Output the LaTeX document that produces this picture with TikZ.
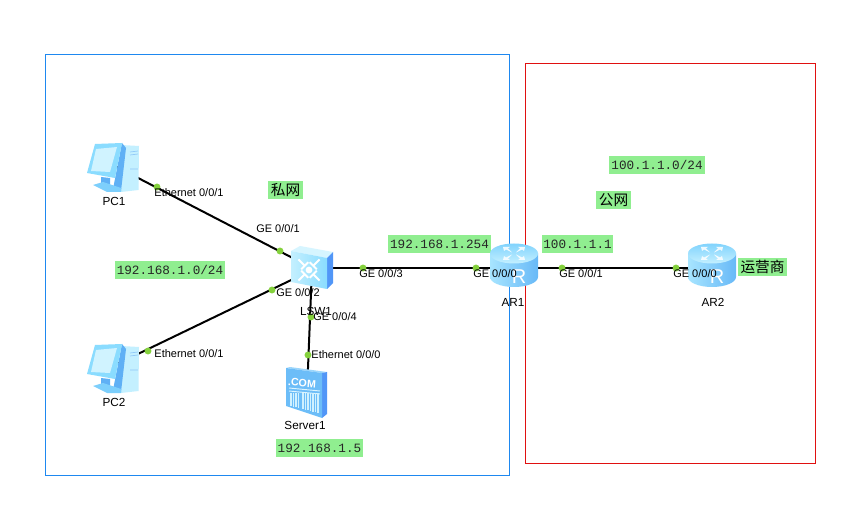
\documentclass[tikz,border=0pt]{standalone}
\usepackage{fontspec}
\setmainfont{Liberation Sans}
\newfontfamily\monof{Liberation Mono}
\newfontfamily\cjkf{Noto Sans CJK SC}
\usetikzlibrary{calc}
\definecolor{tagbg}{HTML}{90EE90}
\definecolor{portdot}{HTML}{84D13C}
\definecolor{framea}{HTML}{1E88F0}
\definecolor{frameb}{HTML}{E01010}
\definecolor{iconlight}{HTML}{C4F0FF}
\definecolor{iconmid}{HTML}{8ADCFF}
\definecolor{icondeep}{HTML}{5FB0F5}
\tikzset{
  x=0.75pt,y=-0.75pt,
  frame/.style={draw,line width=0.9pt},
  tag/.style={fill=tagbg,inner sep=0pt,font=\monof\fontsize{9.5}{11}\selectfont,text=black!85,minimum height=13.5pt},
  cjktag/.style={fill=tagbg,inner sep=0pt,font=\cjkf\fontsize{11}{12}\selectfont,minimum height=13.5pt},
  port/.style={font=\fontsize{8.25}{10}\selectfont,inner sep=0pt},
  devname/.style={font=\fontsize{8.8}{10}\selectfont,inner sep=0pt},
  portdotn/.style={circle,fill=portdot,inner sep=0pt,minimum size=5.2pt},
  anchorbox/.style={inner sep=0pt,minimum size=2pt},
  link/.style={draw=black,line width=1.5pt},
}
% four arrows on the top face of a router
\newcommand{\routertop}{%
  \foreach \a/\b in {-1/-1,1/-1,-1/1,1/1}{%
    \fill[white,opacity=.85] (\a*2,\b*1) -- (\a*8,\b*4) -- (\a*10,\b*2.5) -- (\a*11,\b*6.5) -- (\a*4,\b*6.5) -- (\a*6,\b*5.2) -- cycle;
  }%
}
\tikzset{
  routerpic/.pic={
    \shade[left color=iconmid!75!white,right color=icondeep!80!iconmid]
      (-24,-14.5) -- (-24,9) arc[start angle=180,end angle=0,x radius=24,y radius=10] -- (24,-14.5) -- cycle;
    \shade[bottom color=iconlight,top color=iconmid!80!icondeep]
      (0,-14.5) ellipse[x radius=24,y radius=10];
    \begin{scope}[shift={(0,-14.5)}]\routertop\end{scope}
  },
  pcpic/.pic={
    % tower, inner side, monitor, screen, stand
    \fill[iconlight] (8,-20) -- (26,-19) -- (25.5,25) -- (8,27) -- cycle;
    \fill[icondeep] (9,-22) -- (13,-17) -- (8,26) -- (0,24) -- cycle;
    \fill[iconmid] (-18,-21) -- (9,-22) -- (2,13) -- (-26,8) -- cycle;
    \fill[iconlight!80!white] (-17,-16) -- (4,-18) -- (-3,7) -- (-22,6) -- cycle;
    \fill[icondeep] (-12,12) -- (-3,13) -- (-3,20) -- (-12,18) -- cycle;
    \fill[iconmid!70!icondeep] (-20,20) -- (-10,17) -- (8,23) -- (8,27) -- (-6,27) -- cycle;
    \draw[icondeep!70,line width=.5pt] (17,-13) -- (25,-14) (17,-10) -- (25,-11) (17,4) -- (25,4);
  },
  switchpic/.pic={
    \fill[iconlight!70!white] (-21,-17) -- (-12,-22) -- (21,-16) -- (15,-10) -- cycle;
    \fill[icondeep!85!blue] (15,-10) -- (21,-16) -- (21,15) -- (15,21) -- cycle;
    \shade[left color=iconlight,right color=iconmid] (-21,-17) -- (15,-10) -- (15,21) -- (-21,14) -- cycle;
    \fill[white] (-3,2) circle[radius=3.4];
    \foreach \r in {45,135,225,315}{
      \begin{scope}[shift={(-3,2)},rotate=\r]
        \draw[white,line width=1.4pt] (6,0) -- (15,0);
        \draw[white,line width=1.4pt] (6,-5) -- (6,5);
      \end{scope}
    }
  },
  serverpic/.pic={
    \fill[iconlight!60!icondeep] (-21,-25) -- (-17,-26) -- (20,-21) -- (15,-20) -- cycle;
    \fill[icondeep!85!blue] (15,-20) -- (20,-21) -- (20,21) -- (15,25) -- cycle;
    \fill[icondeep!70!iconmid] (-21,-25) -- (15,-20) -- (15,25) -- (-21,13) -- cycle;
    \draw[white!70!iconmid,line width=.7pt] (-18,-5) -- (13,-2);
    \draw[white!70!iconmid,line width=.7pt] (-18,-2) -- (13,1);
    \foreach \vx in {-16,-13.5,-11,-8.5,-4,-1.5,1,3.5,6,8.5,11}{
      \draw[white!60!iconmid,line width=.8pt] (\vx,0) -- (\vx,{13+(\vx+16)*.25});
    }
  },
}
\begin{document}
\begin{tikzpicture}
\useasboundingbox (0,0) rectangle (866,523);
\fill[white] (0,0) rectangle (866,523);

% the two network regions
\draw[frame,framea] (45.5,54.5) rectangle (509.5,475.5);
\draw[frame,frameb] (525.5,63.5) rectangle (815.5,463.5);

% address and region tags
\node[tag,minimum width=82.5pt] (tagpriv) at (170,270) {192.168.1.0/24};
\node[tag,minimum width=77pt] (taggw) at (439.5,244) {192.168.1.254};
\node[tag,minimum width=53.5pt] (tagwan) at (577.5,244) {100.1.1.1};
\node[tag,minimum width=72pt] (tagpub) at (657,165) {100.1.1.0/24};
\node[tag,minimum width=65pt] (tagsrv) at (319.5,448) {192.168.1.5};
\node[cjktag,minimum width=26pt] (labpriv) at (285.5,190) {私网};
\node[cjktag,minimum width=26pt] (labpub) at (613.5,200) {公网};
\node[cjktag,minimum width=37pt] (labisp) at (762.5,267) {运营商};

% device positions
\node[anchorbox] (pc1) at (113,165) {};
\node[anchorbox] (pc2) at (113,366) {};
\node[anchorbox] (sw) at (312,268) {};
\node[anchorbox] (srv) at (307,393) {};
\node[anchorbox] (ar1) at (514,268) {};
\node[anchorbox] (ar2) at (712,268) {};

% links
\draw[link] (pc1.center) -- (sw.center);
\draw[link] (pc2.center) -- ([yshift=-1.5pt]sw.center);
\draw[link] (sw.center) -- (srv.center);
\draw[link] (sw.center) -- (ar1.center);
\draw[link] (ar1.center) -- (ar2.center);

% interface markers
\foreach \n/\p in {d1/{157,187},d2/{280,251},d3/{272,290},d4/{148,351},d5/{311,317},d6/{308,355},d7/{363,268},d8/{476,268},d9/{562,268},d10/{676,268}}{
  \node[portdotn] (\n) at (\p) {};
}

% device icons
\pic at (pc1) {pcpic};
\pic at (pc2) {pcpic};
\pic at (sw) {switchpic};
\pic at (srv) {serverpic};
\pic at (ar1) {routerpic};
\pic at (ar2) {routerpic};
\node[inner sep=0pt,text=white,font=\fontsize{15}{16}\selectfont] (r1) at (519,277) {R};
\node[inner sep=0pt,text=white,font=\fontsize{15}{16}\selectfont] (r2) at (717,277) {R};
\node[inner sep=0pt,text=white,font=\bfseries\fontsize{8}{9}\selectfont,rotate=-4] (com) at (302,383) {.COM};

% device names
\node[devname] (npc1) at (114,201) {PC1};
\node[devname] (npc2) at (114,402) {PC2};
\node[devname] (nsw) at (316,311) {LSW1};
\node[devname] (nsrv) at (305,425) {Server1};
\node[devname] (nar1) at (513,302) {AR1};
\node[devname] (nar2) at (713,302) {AR2};

% interface names
\node[port] (p1) at (189,193) {Ethernet 0/0/1};
\node[port] (p2) at (278,229) {GE 0/0/1};
\node[port] (p3) at (298,293) {GE 0/0/2};
\node[port] (p4) at (189,354) {Ethernet 0/0/1};
\node[port] (p5) at (335,317) {GE 0/0/4};
\node[port] (p6) at (346,355) {Ethernet 0/0/0};
\node[port] (p7) at (381,274) {GE 0/0/3};
\node[port] (p8) at (495,274) {GE 0/0/0};
\node[port] (p9) at (581,274) {GE 0/0/1};
\node[port] (p10) at (695,274) {GE 0/0/0};
\end{tikzpicture}
\end{document}
